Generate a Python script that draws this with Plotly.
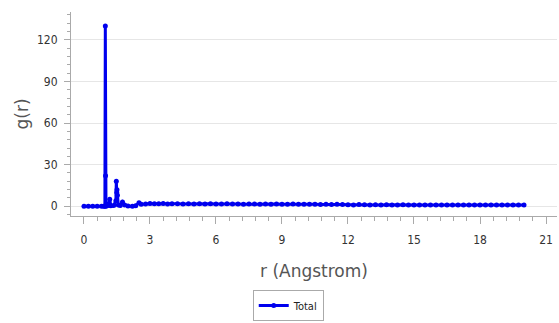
import plotly.graph_objects as go

r_vals = [0.0, 0.2, 0.4, 0.6, 0.8, 0.9, 0.95, 0.97, 0.98, 1.0, 1.1, 1.17, 1.22, 1.35,
          1.45, 1.47, 1.49, 1.5, 1.52, 1.56, 1.65, 1.75, 1.85, 2.0, 2.2, 2.35, 2.5, 2.6,
          2.8, 3.0, 3.2, 3.4, 3.6, 3.8, 4.0, 4.25, 4.5, 4.75, 5.0, 5.25, 5.5, 5.75, 6.0,
          6.25, 6.5, 6.75, 7.0, 7.25, 7.5, 7.75, 8.0, 8.25, 8.5, 8.75, 9.0, 9.25, 9.5,
          9.75, 10.0, 10.25, 10.5, 10.75, 11.0, 11.25, 11.5, 11.75, 12.0, 12.25, 12.5,
          12.75, 13.0, 13.25, 13.5, 13.75, 14.0, 14.25, 14.5, 14.75, 15.0, 15.25, 15.5,
          15.75, 16.0, 16.25, 16.5, 16.75, 17.0, 17.25, 17.5, 17.75, 18.0, 18.25, 18.5,
          18.75, 19.0, 19.25, 19.5, 19.75, 20.0]
g_vals = [0.0, 0.0, 0.0, 0.0, 0.0, 0.0, 0.0, 130.0, 22.0, 0.0, 0.5, 5.0, 0.3, 0.5,
          4.0, 18.0, 10.0, 12.0, 8.0, 1.0, 0.5, 3.0, 1.0, 0.2, 0.1, 0.4, 2.5, 1.5,
          1.6, 2.0, 1.8, 1.9, 2.0, 1.7, 1.8, 1.9, 1.7, 1.8, 1.6, 1.9, 1.7, 1.8, 1.6,
          1.7, 1.8, 1.6, 1.7, 1.5, 1.6, 1.7, 1.5, 1.6, 1.5, 1.6, 1.4, 1.5, 1.6,
          1.4, 1.5, 1.4, 1.5, 1.3, 1.4, 1.3, 1.5, 1.2, 1.1, 1.0, 1.2, 1.1, 1.0, 1.1,
          1.0, 1.1, 1.0, 1.0, 1.1, 1.0, 0.9, 1.0, 1.0, 0.9, 1.0, 1.0, 0.9, 1.0, 1.0,
          0.9, 1.0, 1.0, 1.0, 0.9, 1.0, 1.0, 1.0, 1.0, 0.9, 1.0, 1.0, 1.0]

x_ticks = [0, 3, 6, 9, 12, 15, 18, 21]
y_ticks = [0, 30, 60, 90, 120]

fig = go.Figure()
fig.add_trace(go.Scatter(
    x=r_vals, y=g_vals, mode="lines+markers", name="Total",
    line=dict(color="#0000ee", width=3),
    marker=dict(color="#0000ee", size=5),
))

tick_font = dict(family="DejaVu Sans Condensed, Liberation Sans Narrow, Arial", size=12, color="#333333")
fig.update_layout(
    width=559, height=323,
    margin=dict(l=71, r=2, t=12, b=107, autoexpand=False),
    paper_bgcolor="white", plot_bgcolor="white",
    showlegend=True,
    legend=dict(orientation="h", x=0.447, xanchor="center", y=-0.363, yanchor="top",
                bordercolor="#aaaaaa", borderwidth=1, itemwidth=30,
                font=dict(family="DejaVu Sans Condensed, Arial", size=11, color="#222222")),
    xaxis=dict(
        range=[-0.59, 21.5], tickvals=x_ticks, ticktext=[str(v) for v in x_ticks],
        showgrid=False, zeroline=False, automargin=False,
        showline=True, linecolor="#aaaaaa", linewidth=1,
        ticks="outside", ticklen=7, tickcolor="#aaaaaa",
        ticklabelstandoff=6,
        minor=dict(dtick=0.6, tick0=0, ticks="outside", ticklen=4, tickcolor="#aaaaaa", showgrid=False),
        tickfont=tick_font,
        title=dict(text="r (Angstrom)", font=dict(family="DejaVu Sans, Arial", size=17, color="#555555"), standoff=18),
    ),
    yaxis=dict(
        range=[-7, 140], tickvals=y_ticks, ticktext=[str(v) for v in y_ticks],
        showgrid=True, gridcolor="#e6e6e6", zeroline=False, automargin=False,
        showline=True, linecolor="#aaaaaa", linewidth=1,
        ticks="outside", ticklen=6, tickcolor="#aaaaaa",
        ticklabelstandoff=4,
        minor=dict(dtick=6, tick0=0, ticks="outside", ticklen=3, tickcolor="#aaaaaa", showgrid=False),
        tickfont=tick_font,
        title=dict(text="g(r)", font=dict(family="DejaVu Sans, Arial", size=17, color="#555555"), standoff=4),
    ),
)

fig.write_html("out.html", config={"displayModeBar": False},
               post_script="document.body.style.margin='0';document.body.style.overflow='hidden';")
